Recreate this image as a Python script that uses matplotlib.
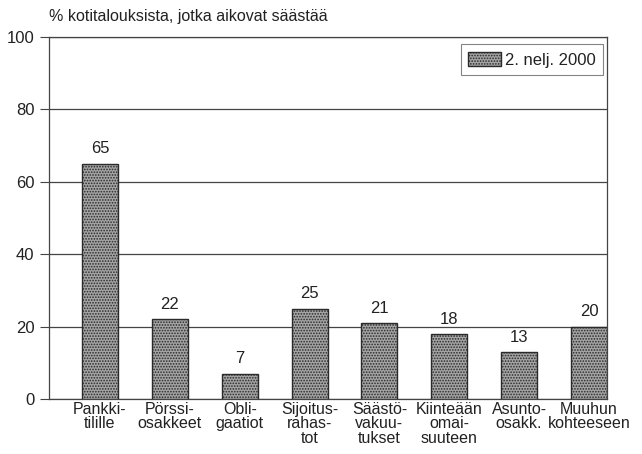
import matplotlib
matplotlib.use("Agg")
import matplotlib.pyplot as plt
from matplotlib.font_manager import fontManager

names = {f.name for f in fontManager.ttflist}
fam = ['Liberation Sans Narrow', 'DejaVu Sans'] if 'Liberation Sans Narrow' in names else ['Liberation Sans', 'DejaVu Sans']
plt.rcParams['font.family'] = fam
plt.rcParams['hatch.color'] = '#555555'
plt.rcParams['hatch.linewidth'] = 0.8

categories = ["Pankki-\ntilille", "Pörssi-\nosakkeet", "Obli-\ngaatiot", "Sijoitus-\nrahas-\ntot",
              "Säästö-\nvakuu-\ntukset", "Kiinteään\nomai-\nsuuteen", "Asunto-\nosakk.", "Muuhun\nkohteeseen"]
values = [65, 22, 7, 25, 21, 18, 13, 20]
series_name = "2. nelj. 2000"
yticks = [0, 20, 40, 60, 80, 100]
title = "% kotitalouksista, jotka aikovat säästää"

fig = plt.figure(figsize=(6.42, 4.54), dpi=100)
ax = fig.add_axes([49/642, 1-399/454, (607-49)/642, (399-37)/454])

x = list(range(len(categories)))
bars = ax.bar(x, values, width=0.515, color='#a4a4a4', edgecolor='#2a2a2a', linewidth=1.0,
              hatch='......', zorder=3, label=series_name)
for xi, v in zip(x, values):
    ax.text(xi, v + 2.0, str(v), ha='center', va='bottom', fontsize=12, color='#222222')

ax.set_xlim(-0.73, 7.258)
ax.set_ylim(0, 100)
ax.set_yticks(yticks)
ax.set_yticklabels([str(t) for t in yticks], fontsize=12, color='#222222')
ax.tick_params(axis='y', length=6.5, width=0.8, color='#444444', pad=4)
ax.set_xticks(x)
ax.set_xticklabels(categories, fontsize=11.5, color='#222222', linespacing=0.95)
ax.tick_params(axis='x', length=0, pad=2)
ax.yaxis.grid(True, color='#444444', linewidth=0.9, zorder=0)
ax.set_axisbelow(True)
for s in ax.spines.values():
    s.set_color('#444444')
    s.set_linewidth(0.9)

leg = ax.legend(loc='upper right', bbox_to_anchor=(603/642, 1-44/454), bbox_transform=fig.transFigure,
                fontsize=12, frameon=True, fancybox=False, handlelength=2.0, handleheight=1.0,
                handletextpad=0.2, borderpad=0.45, borderaxespad=0)
leg.get_frame().set_edgecolor('#666666')
leg.get_frame().set_linewidth(0.8)
for t in leg.get_texts():
    t.set_color('#222222')

fig.text(49/642, 1-17/454, title, ha='left', va='center', fontsize=11.5, color='#222222')

fig.savefig("out.png", dpi=100)
